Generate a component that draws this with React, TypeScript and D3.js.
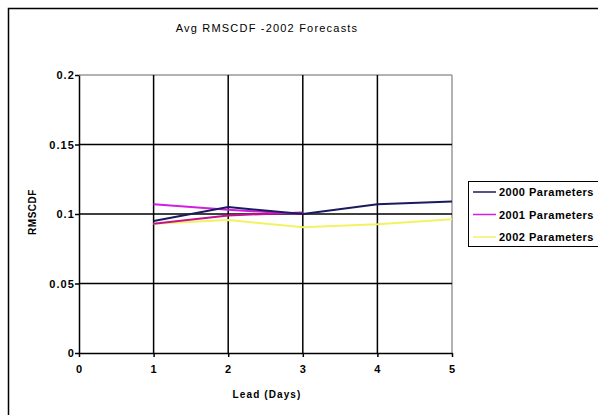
import React, { useEffect, useRef } from "react";
import * as d3 from "d3";

const leadDays = [1, 2, 3, 4, 5];
const params2000 = [0.095, 0.105, 0.1, 0.107, 0.109];
const params2001 = [0.107, 0.103, 0.1];
const params2001b = [0.093, 0.099, 0.101];
const params2002 = [0.093, 0.0957, 0.0904, 0.0926, 0.0962];
const xTicks = [0, 1, 2, 3, 4, 5];
const yTicks = [0, 0.05, 0.1, 0.15, 0.2];
const yTickLabels = ["0", "0.05", "0.1", "0.15", "0.2"];

const seriesList = [
  { name: "2000 Parameters", values: params2000, color: "#1a1a5e", legend: true },
  { name: "2001 Parameters", values: params2001, color: "#d21ee0", legend: true },
  { name: "2001 Parameters b", values: params2001b, color: "#c0148c", legend: false },
  { name: "2002 Parameters", values: params2002, color: "#f2f264", legend: true },
];

export default function App() {
  const ref = useRef<SVGSVGElement>(null);

  useEffect(() => {
    const svg = d3.select(ref.current);
    svg.selectAll("*").remove();

    const font = "'Liberation Sans', Arial, sans-serif";
    const x = d3.scaleLinear().domain([0, 5]).range([79, 452]);
    const y = d3.scaleLinear().domain([0, 0.2]).range([353, 75]);

    // outer chart frame
    svg.append("rect")
      .attr("x", 8.5).attr("y", 8.5)
      .attr("width", 620).attr("height", 430)
      .attr("fill", "#fff")
      .attr("stroke", "#000")
      .attr("stroke-width", 1.5);

    // title
    svg.append("text")
      .attr("x", 267).attr("y", 32)
      .attr("text-anchor", "middle")
      .attr("font-family", font)
      .attr("font-size", 11)
      .attr("letter-spacing", 1.2)
      .text("Avg RMSCDF -2002 Forecasts");

    // plot border (gray top and right)
    svg.append("line")
      .attr("x1", x(0)).attr("x2", x(5))
      .attr("y1", y(0.2)).attr("y2", y(0.2))
      .attr("stroke", "#999").attr("stroke-width", 1.5);
    svg.append("line")
      .attr("x1", x(5)).attr("x2", x(5))
      .attr("y1", y(0.2)).attr("y2", y(0))
      .attr("stroke", "#999").attr("stroke-width", 1.5);

    // gridlines
    svg.append("g").selectAll("line")
      .data(yTicks.filter((t) => t > 0 && t < 0.2))
      .enter().append("line")
      .attr("x1", x(0)).attr("x2", x(5))
      .attr("y1", (d) => y(d)).attr("y2", (d) => y(d))
      .attr("stroke", "#000").attr("stroke-width", 1.5);
    svg.append("g").selectAll("line")
      .data(xTicks.filter((t) => t > 0 && t < 5))
      .enter().append("line")
      .attr("x1", (d) => x(d)).attr("x2", (d) => x(d))
      .attr("y1", y(0.2)).attr("y2", y(0))
      .attr("stroke", "#000").attr("stroke-width", 1.5);

    // axes
    const yAxis = d3.axisLeft(y)
      .tickValues(yTicks)
      .tickFormat((d, i) => yTickLabels[i])
      .tickSize(4)
      .tickSizeOuter(0);
    const gy = svg.append("g").attr("transform", `translate(${x(0)},0)`).call(yAxis);
    const xAxis = d3.axisBottom(x)
      .tickValues(xTicks)
      .tickFormat(d3.format("d"))
      .tickSize(4)
      .tickSizeOuter(0);
    const gx = svg.append("g").attr("transform", `translate(0,${y(0)})`).call(xAxis);
    [gy, gx].forEach((g) => {
      g.select(".domain").attr("stroke", "#000").attr("stroke-width", 1.5);
      g.selectAll(".tick line").attr("stroke", "#000").attr("stroke-width", 1.5);
      g.selectAll(".tick text")
        .attr("font-family", font)
        .attr("font-size", 11)
        .attr("font-weight", "bold")
        .attr("letter-spacing", 1.1)
        .attr("fill", "#000");
    });
    gx.selectAll(".tick text").attr("dy", "1.2em");
    gy.selectAll(".tick text").attr("x", -4);

    // axis titles
    svg.append("text")
      .attr("transform", "translate(36,212) rotate(-90)")
      .attr("text-anchor", "middle")
      .attr("font-family", font)
      .attr("font-size", 10)
      .attr("font-weight", "bold")
      .attr("letter-spacing", 0.5)
      .text("RMSCDF");
    svg.append("text")
      .attr("x", 267).attr("y", 398)
      .attr("text-anchor", "middle")
      .attr("font-family", font)
      .attr("font-size", 10)
      .attr("font-weight", "bold")
      .attr("letter-spacing", 1.1)
      .text("Lead (Days)");

    // series lines
    const line = d3.line<number>()
      .x((d, i) => x(leadDays[i]))
      .y((d) => y(d));
    svg.append("g").selectAll("path")
      .data(seriesList.slice().reverse())
      .enter().append("path")
      .attr("d", (s) => line(s.values))
      .attr("fill", "none")
      .attr("stroke", (s) => s.color)
      .attr("stroke-width", 2);

    // legend
    const legendItems = seriesList.filter((s) => s.legend);
    svg.append("rect")
      .attr("x", 468.5).attr("y", 181.5)
      .attr("width", 140).attr("height", 65)
      .attr("fill", "#fff")
      .attr("stroke", "#000")
      .attr("stroke-width", 1);
    const lg = svg.append("g").selectAll("g")
      .data(legendItems)
      .enter().append("g")
      .attr("transform", (d, i) => `translate(0,${192 + i * 22.5})`);
    lg.append("line")
      .attr("x1", 473).attr("x2", 496)
      .attr("y1", 0).attr("y2", 0)
      .attr("stroke", (d) => d.color)
      .attr("stroke-width", 1.5);
    lg.append("text")
      .attr("x", 499).attr("y", 4)
      .attr("font-family", font)
      .attr("font-size", 11)
      .attr("font-weight", "bold")
      .attr("letter-spacing", 0.5)
      .text((d) => d.name);
  }, []);

  return (
    <svg
      ref={ref}
      width={598}
      height={415}
      style={{ position: "absolute", left: 0, top: 0, background: "#fff" }}
    />
  );
}
